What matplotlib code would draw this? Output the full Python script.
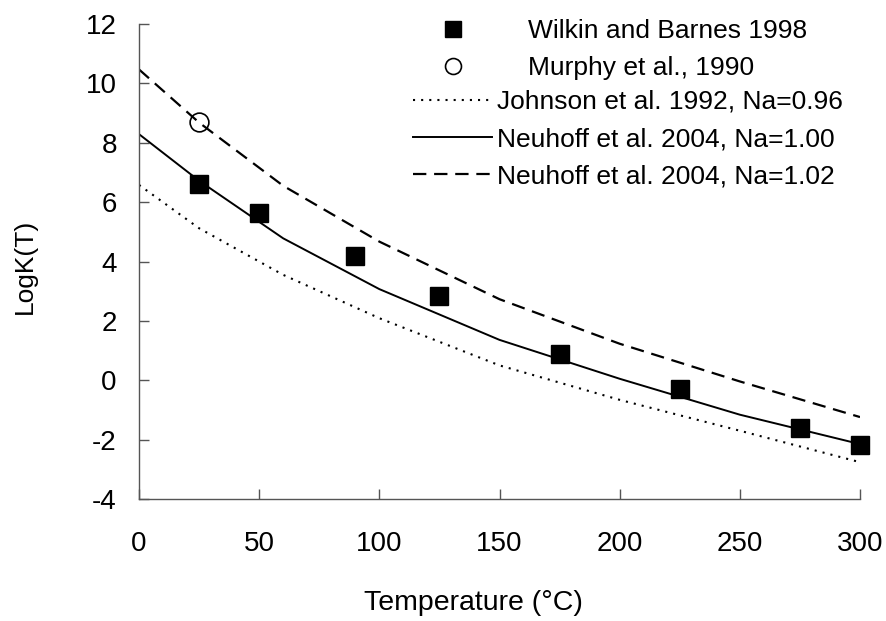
import numpy as np
import matplotlib
matplotlib.use('Agg')
import matplotlib.pyplot as plt

plt.rcParams['font.family'] = ['Liberation Sans', 'DejaVu Sans']
plt.rcParams['axes.unicode_minus'] = False

# Data
# measured log K (squares)
wb_T = [25, 50, 90, 125, 175, 225, 275, 300]
wb_logk = [6.61, 5.65, 4.20, 2.84, 0.89, -0.29, -1.60, -2.18]

# Murphy et al. 1990 (open circle)
mu_T = [25]
mu_logk = [8.69]

# model curves on the usual SUPCRT temperature grid
grid_T = [0, 25, 60, 100, 150, 200, 250, 300]
johnson_096 = [6.58, 5.12, 3.55, 2.09, 0.50, -0.66, -1.70, -2.76]
neuhoff_100 = [8.29, 6.72, 4.78, 3.07, 1.36, 0.05, -1.16, -2.15]
neuhoff_102 = [10.47, 8.68, 6.55, 4.67, 2.73, 1.23, -0.04, -1.24]

W, H = 886, 621
fig = plt.figure(figsize=(W / 100, H / 100), dpi=100)
ax = fig.add_axes([139 / W, (H - 499) / H, (860 - 139) / W, (499 - 24) / H])

fs = 19
spine_col = '#555555'

l_j, = ax.plot(grid_T, johnson_096, color='black', lw=1.5,
               linestyle=(0, (1.0, 2.9)), label='Johnson et al. 1992, Na=0.96')
l_n1, = ax.plot(grid_T, neuhoff_100, color='black', lw=1.4,
                linestyle='-', label='Neuhoff et al. 2004, Na=1.00')
l_n2, = ax.plot(grid_T, neuhoff_102, color='black', lw=1.6,
                linestyle=(0, (6, 3.5)), label='Neuhoff et al. 2004, Na=1.02')
p_wb, = ax.plot(wb_T, wb_logk, linestyle='none', marker='s', ms=13,
                color='black', label='Wilkin and Barnes 1998', clip_on=False, zorder=5)
p_mu, = ax.plot(mu_T, mu_logk, linestyle='none', marker='o', ms=13.5,
                mfc='none', mec='black', mew=1.2, label='Murphy et al., 1990', zorder=5)

ax.set_xlim(0, 300)
ax.set_ylim(-4, 12)
ax.set_xticks(np.arange(0, 301, 50))
ax.set_yticks(np.arange(-4, 13, 2))

for s in ['top', 'right']:
    ax.spines[s].set_visible(False)
for s in ['left', 'bottom']:
    ax.spines[s].set_color(spine_col)
    ax.spines[s].set_linewidth(1.0)

ax.tick_params(axis='both', direction='in', length=7.2, width=1.0,
               color=spine_col, labelsize=20)
ax.tick_params(axis='y', pad=16)
ax.tick_params(axis='x', pad=23)

ax.set_xlabel('Temperature (°C)', fontsize=20.5)
ax.xaxis.set_label_coords((473 - 139) / (860 - 139), -(603 - 499) / (499 - 24), transform=ax.transAxes)
ax.xaxis.label.set_va('center')
ax.set_ylabel('LogK(T)', fontsize=fs)
ax.yaxis.set_label_coords(-(139 - 25) / (860 - 139), 0.49)
ax.yaxis.label.set_va('center')

# two legends: the marker entries have their text further right
leg1 = ax.legend(handles=[p_wb, p_mu], loc='upper left', frameon=False,
                 bbox_to_anchor=(426.6 / W, 1 - 19 / H), bbox_transform=fig.transFigure,
                 borderpad=0, borderaxespad=0, handlelength=2.0, handletextpad=1.84,
                 labelspacing=0.5, numpoints=1, markerscale=0.85, fontsize=fs)
ax.add_artist(leg1)
ax.legend(handles=[l_j, l_n1, l_n2], loc='upper left', frameon=False,
          bbox_to_anchor=(413 / W, 1 - 90 / H), bbox_transform=fig.transFigure,
          borderpad=0, borderaxespad=0, handlelength=3.0, handletextpad=0.19,
          labelspacing=0.5, fontsize=fs)

plt.savefig('out.png', dpi=100)
